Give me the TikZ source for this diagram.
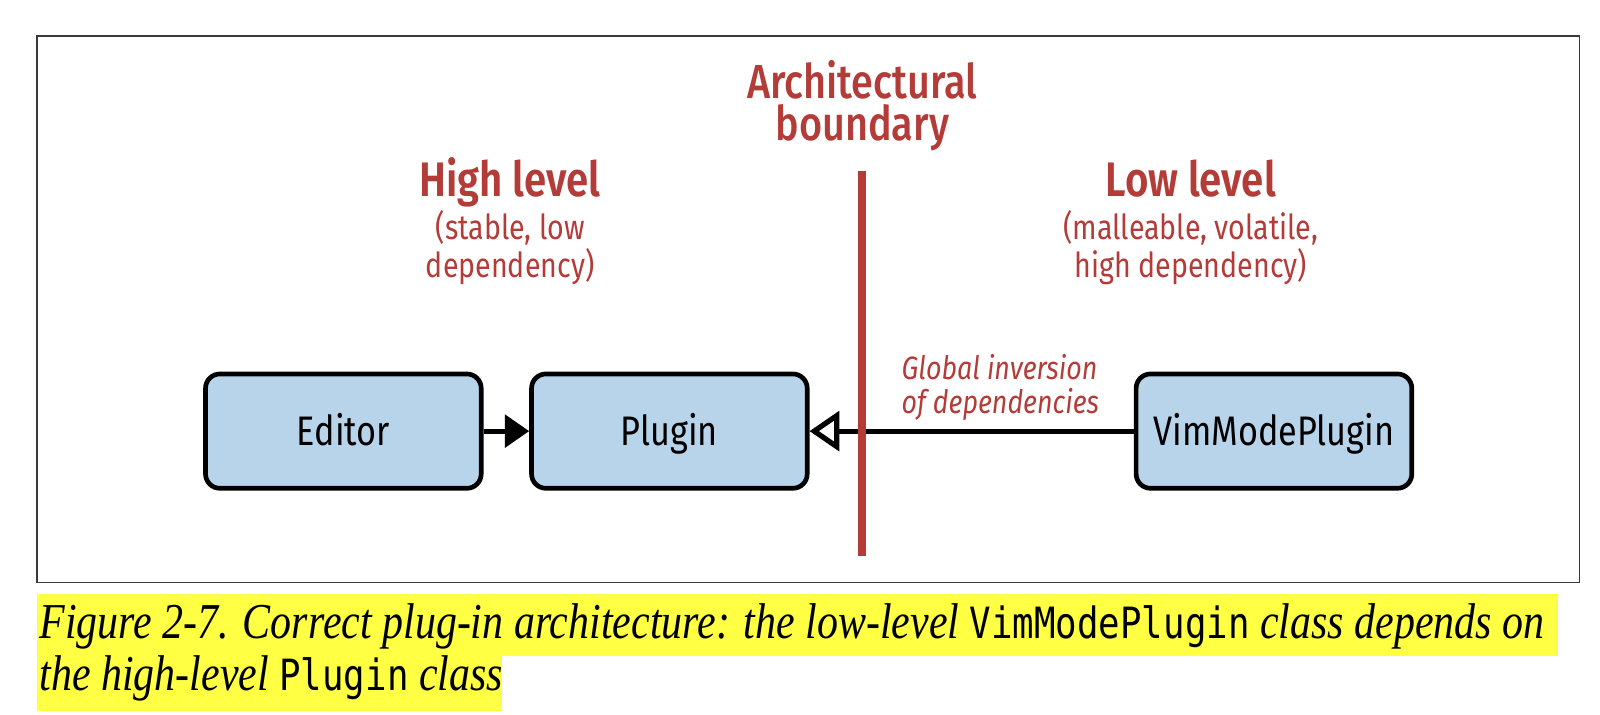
\documentclass[tikz,border=0pt]{standalone}
\usepackage{fontspec}
\setmainfont{Fira Sans}[FakeStretch=0.83]
\newfontfamily\medfont{Fira Sans Medium}[FakeStretch=0.83]
\newfontfamily\semifont{Fira Sans SemiBold}[FakeStretch=0.83]
\newfontfamily\capfont{Liberation Serif}[FakeStretch=0.835]
\newfontfamily\capmono{DejaVu Sans Mono}[FakeStretch=0.83]
\usetikzlibrary{arrows.meta}
\definecolor{archred}{HTML}{B33B38}
\definecolor{boxblue}{HTML}{B8D4EA}
\definecolor{hilite}{HTML}{FFFF44}
\definecolor{framegray}{HTML}{3A3A3A}
\begin{document}
\begin{tikzpicture}[x=0.01cm,y=-0.01cm,
  classbox/.style={draw=black, line width=1.3pt, fill=boxblue, rounded corners=4pt,
    minimum width=2.70cm, minimum height=1.12cm, inner sep=0pt,
    text height=7.9pt, text depth=0pt, font=\fontsize{11.5}{13}\selectfont},
  headlbl/.style={text=archred, font=\medfont\fontsize{13.3}{11.7}\selectfont, align=center, anchor=base, inner sep=0pt},
  headbold/.style={text=archred, font=\semifont\fontsize{13.5}{15}\selectfont, anchor=base, inner sep=0pt},
  sublbl/.style={text=archred, font=\fontsize{9.6}{10.5}\selectfont, align=center, anchor=base, inner sep=0pt},
  notelbl/.style={text=archred, font=\fontsize{9}{9.4}\selectfont\itshape, align=left, anchor=base west, inner sep=0pt},
  caplbl/.style={font=\capfont\itshape\fontsize{14}{16}\selectfont, anchor=base west, inner sep=0pt},
  depline/.style={line width=1.45pt},
  boundary/.style={draw=archred, line width=2.3pt},
]
\useasboundingbox (0,0) rectangle (1568,700);
% frame
\draw[framegray, line width=0.45pt] (36,35) rectangle (1548,571);
% caption highlight
\fill[hilite] (36,582) rectangle (1527,643);
\fill[hilite] (36,643) rectangle (492,697);
% headings (anchor = baseline of last line)
\node[headlbl] (arch) at (845,138) {Architectural\\boundary};
\node[headbold] (high) at (500,193) {High level};
\node[sublbl] (highsub) at (500,272) {(stable, low\\dependency)};
\node[headbold] (low) at (1167,193) {Low level};
\node[sublbl] (lowsub) at (1167,272) {(malleable, volatile,\\high dependency)};
% boxes
\node[classbox] (editor) at (336.5,422.5) {Editor};
\node[classbox] (plugin) at (656,422.5) {Plugin};
\node[classbox] (vim) at (1248.5,422.5) {VimModePlugin};
% connectors
\draw[depline, -{Triangle[length=6.8pt,width=9pt]}] (editor) -- (plugin);
\draw[depline, -{Triangle[open,length=8.3pt,width=11pt]}] (vim) -- (plugin);
\node[notelbl] (note) at (883,405) {Global inversion\\of dependencies};
% boundary
\coordinate (btop) at (845,168);
\coordinate (bbot) at (845,545);
\draw[boundary] (btop) -- (bbot);
% caption
\node[caplbl] (cap1) at (38,626) {Figure 2-7. Correct plug-in architecture: the low-level {\capmono\upshape\fontsize{12}{14}\selectfont VimModePlugin} class depends on};
\node[caplbl] (cap2) at (38,677) {the high-level {\capmono\upshape\fontsize{12}{14}\selectfont Plugin} class};
\end{tikzpicture}
\end{document}
